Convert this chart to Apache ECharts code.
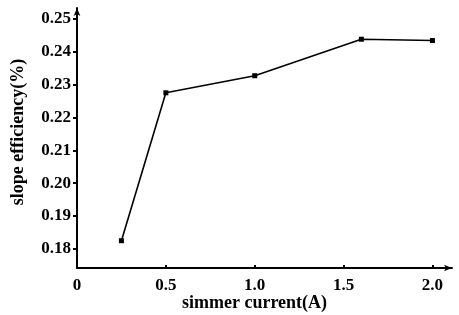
<!DOCTYPE html>
<html>
<head>
<meta charset="utf-8">
<script src="https://cdn.jsdelivr.net/npm/echarts@6/dist/echarts.min.js"></script>
<style>
  html, body { margin: 0; padding: 0; background: #fff; }
  #chart { width: 459px; height: 315px; }
</style>
</head>
<body>
<div id="chart"></div>
<script>
var current = [0.25, 0.5, 1.0, 1.6, 2.0];
var efficiency = [0.1825, 0.2275, 0.2327, 0.2438, 0.2434];
var yTicks = [0.18, 0.19, 0.20, 0.21, 0.22, 0.23, 0.24, 0.25];
var yTickLabels = ['0.18', '0.19', '0.20', '0.21', '0.22', '0.23', '0.24', '0.25'];
var xTicks = [0, 0.5, 1.0, 1.5, 2.0];
var xTickLabels = ['0', '0.5', '1.0', '1.5', '2.0'];

var font = '"Liberation Serif", "DejaVu Serif", serif';
var chart = echarts.init(document.getElementById('chart'), null, { renderer: 'canvas' });
chart.setOption({
  animation: false,
  backgroundColor: '#fff',
  grid: { left: 77, right: 7, top: 8, bottom: 47, containLabel: false, outerBoundsMode: 'none' },
  xAxis: {
    type: 'value',
    min: 0,
    max: 2.11,
    name: 'simmer current(A)',
    nameLocation: 'middle',
    nameGap: 26,
    nameMoveOverlap: false,
    nameTextStyle: { color: '#000', fontFamily: font, fontWeight: 'bold', fontSize: 18, padding: [0, 20, 0, 0], verticalAlign: 'top' },
    axisLine: { show: true, lineStyle: { color: '#000', width: 2 }, symbol: ['none', 'arrow'], symbolSize: [5, 8] },
    axisTick: { show: true, inside: true, length: 3, customValues: [0.5, 1.0, 1.5, 2.0], lineStyle: { color: '#000', width: 2 } },
    axisLabel: {
      customValues: xTicks,
      margin: 9,
      color: '#000', fontFamily: font, fontWeight: 'bold', fontSize: 17,
      formatter: function(v) { return xTickLabels[xTicks.indexOf(v)]; }
    },
    splitLine: { show: false }
  },
  yAxis: {
    type: 'value',
    min: 0.1742,
    max: 0.2533,
    name: 'slope efficiency(%)',
    nameLocation: 'middle',
    nameGap: 50,
    nameTextStyle: { color: '#000', fontFamily: font, fontWeight: 'bold', fontSize: 18, padding: [0, 0, 0, 12] },
    axisLine: { show: true, lineStyle: { color: '#000', width: 2 }, symbol: ['none', 'arrow'], symbolSize: [5, 8] },
    axisTick: { show: true, length: 4, customValues: yTicks, lineStyle: { color: '#000', width: 2 } },
    axisLabel: {
      customValues: yTicks,
      margin: 6,
      color: '#000', fontFamily: font, fontWeight: 'bold', fontSize: 17,
      formatter: function(v) {
        for (var i = 0; i < yTicks.length; i++) if (Math.abs(yTicks[i] - v) < 1e-6) return yTickLabels[i];
        return '';
      }
    },
    splitLine: { show: false }
  },
  series: [{
    type: 'line',
    data: current.map(function(x, i) { return [x, efficiency[i]]; }),
    symbol: 'rect',
    symbolSize: 5,
    itemStyle: { color: '#000' },
    lineStyle: { color: '#000', width: 1.6 }
  }]
});
</script>
</body>
</html>
